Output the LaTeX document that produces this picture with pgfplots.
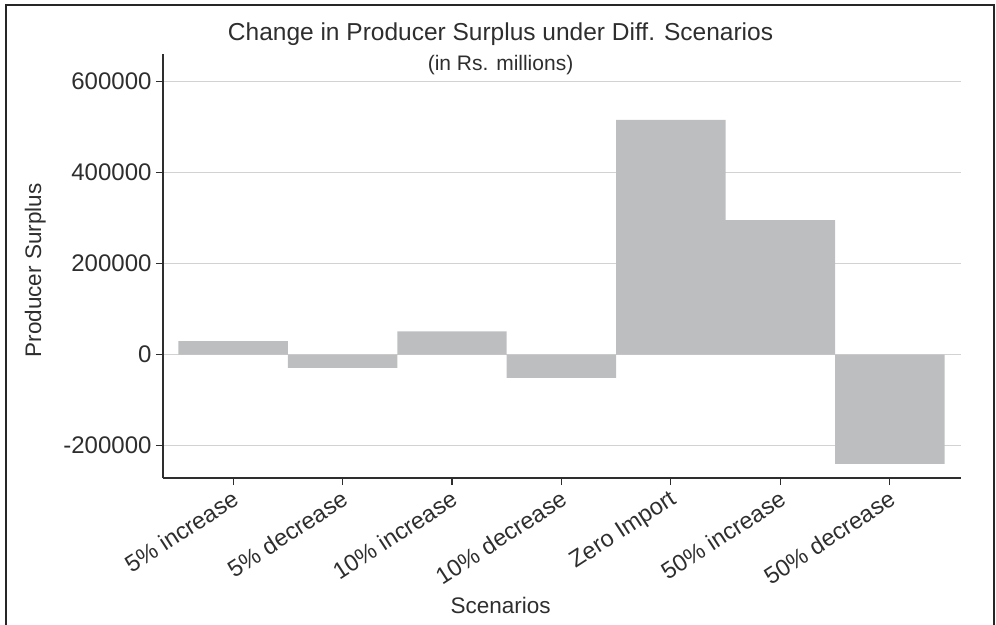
\documentclass[border=0pt]{standalone}
\usepackage{fontspec}
\setmainfont{Liberation Sans}
\usepackage{pgfplots}
\pgfplotsset{compat=1.18}
\usetikzlibrary{calc}

\definecolor{bargray}{HTML}{BDBEC0}
\definecolor{gridgray}{HTML}{D2D2D2}
\definecolor{txt}{HTML}{2E2E2E}

\newcommand{\fs}[1]{\fontsize{#1}{#1}\selectfont}

\begin{document}
\begin{tikzpicture}
  \begin{axis}[
    scale only axis, width=798pt, height=423.6pt,
    xmin=-0.64, xmax=6.65,
    ymin=-271000, ymax=660000,
    axis x line=bottom, axis y line=left,
    axis line style={-, line width=2.4pt, txt},
    tick align=outside, major tick length=7pt,
    tick style={line width=1.1pt, txt},
    ymajorgrids, grid style={line width=1.6pt, gridgray},
    scaled y ticks=false,
    ytick={-200000,0,200000,400000,600000},
    yticklabels={-200000,0,200000,400000,600000},
    yticklabel style={font=\fs{24}, text=txt, xshift=-1pt},
    xtick={0,...,6},
    xticklabels={5\% increase, 5\% decrease, 10\% increase, 10\% decrease,
                 Zero Import, 50\% increase, 50\% decrease},
    xticklabel style={font=\fs{23.5}, text=txt, rotate=33, anchor=north east,
                      inner sep=2pt, yshift=0pt, xshift=-2pt},
    xlabel={Scenarios},
    xlabel style={font=\fs{22.5}, text=txt, at={(axis description cs:0.423,0)},
                  anchor=center, yshift=-127pt},
    ylabel={Producer Surplus},
    ylabel style={font=\fs{22.5}, text=txt, at={(axis description cs:-0.160,0.49)},
                  anchor=center, rotate=0},
    title={Change in Producer Surplus under Diff. Scenarios},
    title style={font=\fs{24.5}, text=txt, at={(axis description cs:0.423,1)},
                 anchor=base, yshift=8pt},
    clip=false,
  ]
    \addplot[ybar, bar width=1, fill=bargray, draw=none] coordinates {
      (0, 30000) (1, -29000) (2, 51500) (3, -51000)
      (4, 516000) (5, 296000) (6, -240000)
    };
    \node[font=\fs{21}, text=txt, anchor=base]
      at (axis description cs:0.423,0.961) {(in Rs. millions)};
    \coordinate (SW) at (rel axis cs:0,0);
  \end{axis}
  % page = 996 x 624 reference pixels, axis box lower-left at (163,146)
  \pgfresetboundingbox
  \coordinate (O) at ($(SW)+(-163pt,-146pt)$);
  \useasboundingbox (O) rectangle ($(O)+(996pt,624pt)$);
  \draw[line width=1.6pt, black!85] ($(O)+(6pt,-30pt)$) rectangle ($(O)+(994pt,619pt)$);
\end{tikzpicture}
\end{document}
